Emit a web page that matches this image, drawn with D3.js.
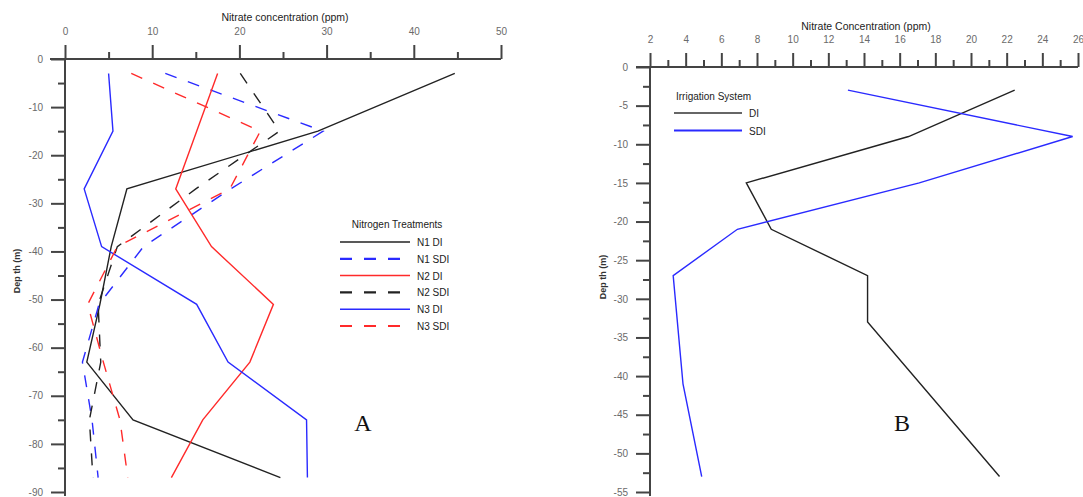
<!DOCTYPE html>
<html>
<head>
<meta charset="utf-8">
<script src="https://cdn.jsdelivr.net/npm/d3@7"></script>
<style>
  body { margin: 0; background: #fff; }
  svg { display: block; font-family: "Liberation Sans", Arial, sans-serif; }
  .tick text { fill: #6a6a6a; font-size: 10px; }
  .tick line { stroke: #444; stroke-width: 2; }
</style>
</head>
<body>
<svg id="chart" width="1083" height="497"></svg>
<script>
// Panel A: nitrate profiles by nitrogen treatment (depth in cm, concentration in ppm)
const depthA = [-3, -15, -27, -39, -51, -63, -75, -87];
const n1DI  = [44.7, 29.0, 7.1, 5.3, 4.0, 2.5, 7.8, 24.7];
const n1SDI = [11.5, 29.6, 19.0, 9.0, 3.9, 2.0, 3.1, 3.8];
const n2DI  = [17.5, 15.1, 12.7, 16.8, 23.9, 21.2, 15.8, 12.2];
const n2SDI = [20.1, 24.6, 15.0, 6.0, 3.8, 4.1, 2.8, 3.2];
const n3DI  = [5.0, 5.5, 2.2, 4.2, 15.1, 18.7, 27.7, 27.8];
const n3SDI = [7.6, 22.4, 18.9, 6.0, 2.6, 4.4, 6.3, 7.2];
const seriesNamesA = ["N1 DI", "N1 SDI", "N2 DI", "N2 SDI", "N3 DI", "N3 SDI"];
const xTicksA = [0, 10, 20, 30, 40, 50];
const yTicksA = [0, -10, -20, -30, -40, -50, -60, -70, -80, -90];

// Panel B: nitrate profiles by irrigation system
const depthDI  = [-3, -9, -15, -21, -27, -33, -53];
const valDI    = [22.45, 16.5, 7.4, 8.8, 14.2, 14.2, 21.6];
const depthSDI = [-3, -9, -15, -21, -27, -41, -53];
const valSDI   = [13.1, 25.7, 17.1, 6.9, 3.3, 3.85, 4.9];
const seriesNamesB = ["DI", "SDI"];
const xTicksB = [2, 4, 6, 8, 10, 12, 14, 16, 18, 20, 22, 24, 26];
const yTicksB = [0, -5, -10, -15, -20, -25, -30, -35, -40, -45, -50, -55];

const svg = d3.select("#chart");

const BLACK = "#222", RED = "#ff2a2a", BLUE = "#2a2aff";
// plain hyphen for negative tick labels
const fmt = d => String(d);

function drawAxes(g, x, y, xTicks, xMinor, yTicks, yMinor, xTitle, titleY, lineLeft) {
  const y0 = y(0), x0 = x.range()[0];
  // top axis: major + minor ticks pointing up
  g.append("g").attr("transform", `translate(0,${y0})`)
    .call(d3.axisTop(x).tickValues(xMinor).tickSize(7).tickFormat(""))
    .call(a => a.select(".domain").remove());
  g.append("g").attr("transform", `translate(0,${y0})`)
    .call(d3.axisTop(x).tickValues(xTicks).tickSize(14).tickPadding(10).tickFormat(fmt))
    .call(a => a.select(".domain").remove());
  // left axis: major + minor ticks pointing left
  g.append("g").attr("transform", `translate(${x0},0)`)
    .call(d3.axisLeft(y).tickValues(yMinor).tickSize(7).tickFormat(""))
    .call(a => a.select(".domain").remove());
  g.append("g").attr("transform", `translate(${x0},0)`)
    .call(d3.axisLeft(y).tickValues(yTicks).tickSize(14).tickPadding(8).tickFormat(fmt))
    .call(a => a.select(".domain").remove());
  // axis lines
  g.append("line").attr("x1", lineLeft).attr("x2", x.range()[1]).attr("y1", y0).attr("y2", y0)
    .attr("stroke", "#444").attr("stroke-width", 2);
  g.append("line").attr("x1", x0).attr("x2", x0).attr("y1", y0).attr("y2", y.range()[1] + 4)
    .attr("stroke", "#444").attr("stroke-width", 2);
  // title
  g.append("text").attr("x", (x.range()[0] + x.range()[1]) / 2 + 2).attr("y", titleY)
    .attr("text-anchor", "middle").attr("font-size", 10.5).attr("fill", "#222").text(xTitle);
}

function yTitle(g, x, y, text) {
  g.append("text").attr("transform", `translate(${x},${y}) rotate(-90)`)
    .attr("text-anchor", "middle").attr("font-size", 9).attr("font-weight", "bold")
    .attr("fill", "#333").text(text);
}

// ---------- Panel A ----------
const gA = svg.append("g");
const xA = d3.scaleLinear().domain([0, 50]).range([65, 501]);
const yA = d3.scaleLinear().domain([0, -90]).range([59, 492]);
drawAxes(gA, xA, yA, xTicksA, d3.range(5, 50, 10), yTicksA, d3.range(-5, -90, -10),
  "Nitrate concentration (ppm)", 21, 50);
yTitle(gA, 20, 271, "Dep th (m)");

const styleA = [
  { vals: n1DI,  color: BLACK, dash: null },
  { vals: n1SDI, color: BLUE,  dash: "12,12" },
  { vals: n2DI,  color: RED,   dash: null },
  { vals: n2SDI, color: BLACK, dash: "12,12" },
  { vals: n3DI,  color: BLUE,  dash: null },
  { vals: n3SDI, color: RED,   dash: "12,12" }
];
const lineA = d3.line().x(d => xA(d[0])).y(d => yA(d[1]));
styleA.forEach(s => {
  gA.append("path")
    .datum(s.vals.map((v, i) => [v, depthA[i]]))
    .attr("d", lineA).attr("fill", "none")
    .attr("stroke", s.color).attr("stroke-width", 1.4)
    .attr("stroke-dasharray", s.dash);
});

// legend A
const legA = gA.append("g").attr("transform", "translate(340,224)");
legA.append("text").attr("x", 57).attr("y", 4).attr("text-anchor", "middle")
  .attr("font-size", 10).attr("fill", "#222").text("Nitrogen Treatments");
seriesNamesA.forEach((name, i) => {
  const yy = 18 + i * 16.8;
  legA.append("line").attr("x1", 0).attr("x2", 70).attr("y1", yy).attr("y2", yy)
    .attr("stroke", styleA[i].color).attr("stroke-width", styleA[i].dash ? 2.2 : 1.5)
    .attr("stroke-dasharray", styleA[i].dash);
  legA.append("text").attr("x", 77).attr("y", yy + 4).attr("font-size", 10)
    .attr("fill", "#222").text(name);
});
gA.append("text").attr("x", 363).attr("y", 431).attr("text-anchor", "middle")
  .attr("font-family", "Liberation Serif, DejaVu Serif, serif").attr("font-size", 24)
  .attr("fill", "#111").text("A");

// ---------- Panel B ----------
const gB = svg.append("g");
const xB = d3.scaleLinear().domain([2, 26]).range([650, 1078]);
const yB = d3.scaleLinear().domain([0, -55]).range([67, 492]);
drawAxes(gB, xB, yB, xTicksB, d3.range(3, 26, 2), yTicksB, d3.range(-2.5, -55, -5),
  "Nitrate Concentration (ppm)", 30, 636);
yTitle(gB, 606, 277, "Dep th (m)");

const lineB = d3.line().x(d => xB(d[0])).y(d => yB(d[1]));
const styleB = [
  { vals: valDI,  depth: depthDI,  color: BLACK, legColor: "#666" },
  { vals: valSDI, depth: depthSDI, color: BLUE,  legColor: BLUE }
];
styleB.forEach(s => {
  gB.append("path")
    .datum(s.vals.map((v, i) => [v, s.depth[i]]))
    .attr("d", lineB).attr("fill", "none")
    .attr("stroke", s.color).attr("stroke-width", 1.4);
});

const legB = gB.append("g").attr("transform", "translate(674,96)");
legB.append("text").attr("x", 2).attr("y", 4).attr("font-size", 10)
  .attr("fill", "#222").text("Irrigation System");
seriesNamesB.forEach((name, i) => {
  const yy = 17 + i * 17.6;
  legB.append("line").attr("x1", 0).attr("x2", 68).attr("y1", yy).attr("y2", yy)
    .attr("stroke", styleB[i].legColor).attr("stroke-width", 2);
  legB.append("text").attr("x", 75).attr("y", yy + 4).attr("font-size", 10)
    .attr("fill", "#222").text(name);
});
gB.append("text").attr("x", 902).attr("y", 431).attr("text-anchor", "middle")
  .attr("font-family", "Liberation Serif, DejaVu Serif, serif").attr("font-size", 24)
  .attr("fill", "#111").text("B");
</script>
</body>
</html>
